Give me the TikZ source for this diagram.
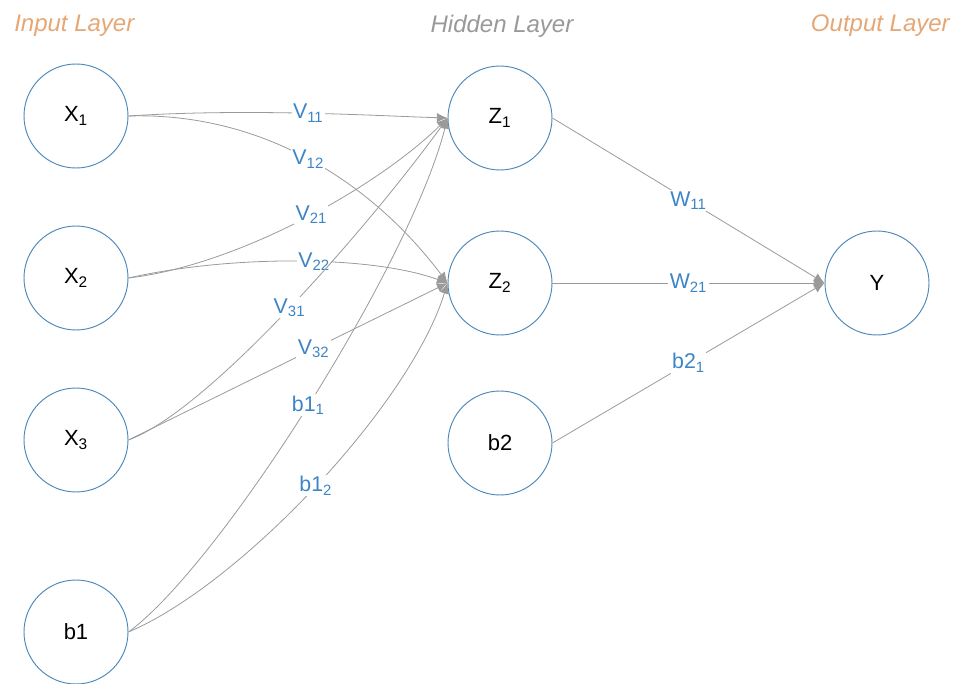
\documentclass[tikz,border=0pt]{standalone}
\usepackage{fontspec}
\setmainfont{Liberation Sans}
\usetikzlibrary{arrows.meta}
\definecolor{ringblue}{HTML}{4A86B8}
\definecolor{wtblue}{HTML}{3D85C6}
\definecolor{layerorange}{HTML}{E6A775}
\definecolor{layergray}{HTML}{999999}
\definecolor{edgegray}{HTML}{9A9A9A}
\begin{document}
\begin{tikzpicture}[x=0.75pt,y=-0.75pt,
    neuron/.style={draw=ringblue,line width=0.7pt,circle,minimum size=78pt,inner sep=0pt,
      font=\fontsize{16.5}{18}\selectfont},
    wt/.style={fill=white,text=wtblue,inner sep=1pt,font=\fontsize{16}{18}\selectfont},
    link/.style={draw=edgegray,line width=0.6pt,-{Latex[length=8pt,width=7pt]}},
    title/.style={font=\fontsize{18}{20}\selectfont\itshape,inner sep=0pt}]
  \useasboundingbox (0,0) rectangle (954,684);
  % layer titles
  \node[title,text=layerorange,anchor=west] (tin) at (14,26) {Input Layer};
  \node[title,text=layergray] (thid) at (502,26) {Hidden Layer};
  \node[title,text=layerorange,anchor=east] (tout) at (950,26) {Output Layer};
  % neurons
  \node[neuron] (x1) at (76,116) {X\textsubscript{1}};
  \node[neuron] (x2) at (76,278) {X\textsubscript{2}};
  \node[neuron] (x3) at (76,440) {X\textsubscript{3}};
  \node[neuron] (b1) at (76,632) {b1};
  \node[neuron] (z1) at (500,118) {Z\textsubscript{1}};
  \node[neuron] (z2) at (500,283) {Z\textsubscript{2}};
  \node[neuron] (b2) at (500,443) {b2};
  \node[neuron] (y) at (877,283) {Y};
  % input -> hidden
  \draw[link] (x1.east) .. controls (250,108) and (380,116) .. node[wt] (v11) {V\textsubscript{11}} (z1.west);
  \draw[link] (x1.east) .. controls (260,112) and (370,180) .. node[wt] (v12) {V\textsubscript{12}} (z2.west);
  \draw[link] (x2.east) .. controls (240,265) and (380,185) .. node[wt,pos=0.52] (v21) {V\textsubscript{21}} (z1.west);
  \draw[link] (x2.east) .. controls (230,255) and (370,255) .. node[wt,pos=0.55] (v22) {V\textsubscript{22}} (z2.west);
  \draw[link] (x3.east) .. controls (210,410) and (370,225) .. node[wt] (v31) {V\textsubscript{31}} (z1.west);
  \draw[link] (x3.east) -- node[wt,pos=0.58] (v32) {V\textsubscript{32}} (z2.west);
  \draw[link] (b1.east) .. controls (220,565) and (410,265) .. node[wt] (b11) {b1\textsubscript{1}} (z1.west);
  \draw[link] (b1.east) .. controls (240,585) and (410,405) .. node[wt] (b12) {b1\textsubscript{2}} (z2.west);
  % hidden -> output
  \draw[link] (z1.east) -- node[wt] (w11) {W\textsubscript{11}} (y.west);
  \draw[link] (z2.east) -- node[wt] (w21) {W\textsubscript{21}} (y.west);
  \draw[link] (b2.east) -- node[wt] (b21) {b2\textsubscript{1}} (y.west);
\end{tikzpicture}
\end{document}
